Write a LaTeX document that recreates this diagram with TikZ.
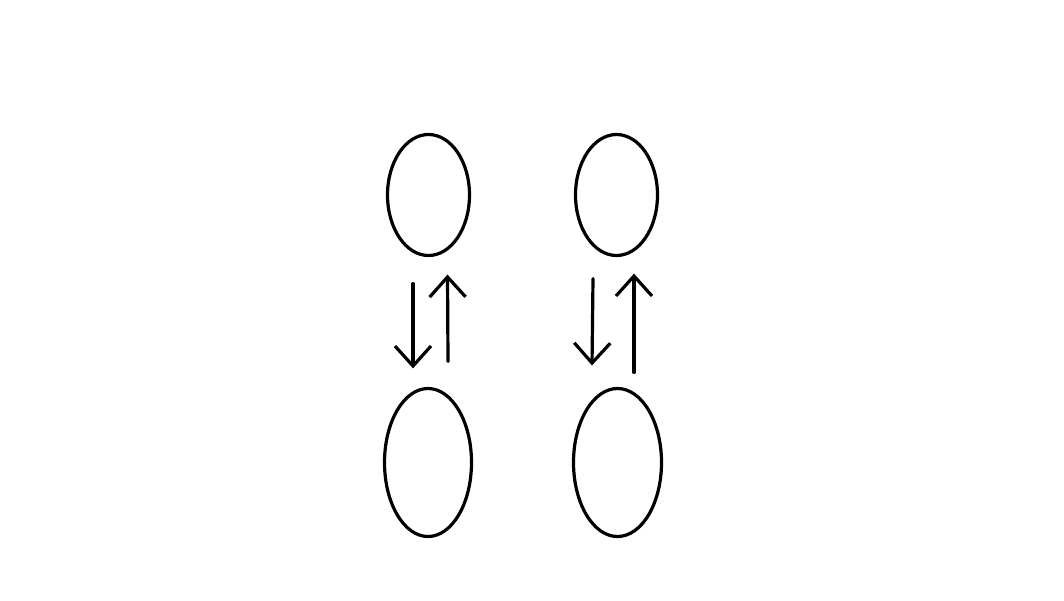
\documentclass[tikz,border=0pt]{standalone}
\usepackage{tikz}
\usetikzlibrary{shapes.geometric,arrows.meta}

\begin{document}
\begin{tikzpicture}[x=1pt,y=-1pt,line width=3.2pt,
  blob/.style={draw,ellipse,inner sep=0pt},
  arr/.style={-{Straight Barb[length=20pt,width=36pt]},line cap=round}]%two pairs
\useasboundingbox (0,0) rectangle (1064,600);
\node[blob,minimum width=82pt,minimum height=121pt] (tl) at (428.5,195){};
\node[blob,minimum width=82pt,minimum height=121pt] (tr) at (616.5,195){};
\node[blob,minimum width=87pt,minimum height=148pt] (bl) at (428,462.5){};
\node[blob,minimum width=88pt,minimum height=148pt] (br) at (617.5,462.5){};
\draw[arr] ([xshift=-15.5pt,yshift=-26.5pt]tl.south) -- ([xshift=-15pt,yshift=18.5pt]bl.north);
\draw[arr] ([xshift=20pt,yshift=25.5pt]bl.north) -- ([xshift=19pt,yshift=-17.5pt]tl.south);
\draw[arr] ([xshift=-23.5pt,yshift=-21.5pt]tr.south) -- ([xshift=-25.5pt,yshift=21.5pt]br.north);
\draw[arr] ([xshift=16.5pt,yshift=14.5pt]br.north) -- ([xshift=17.5pt,yshift=-16.5pt]tr.south);
\end{tikzpicture}
\end{document}
